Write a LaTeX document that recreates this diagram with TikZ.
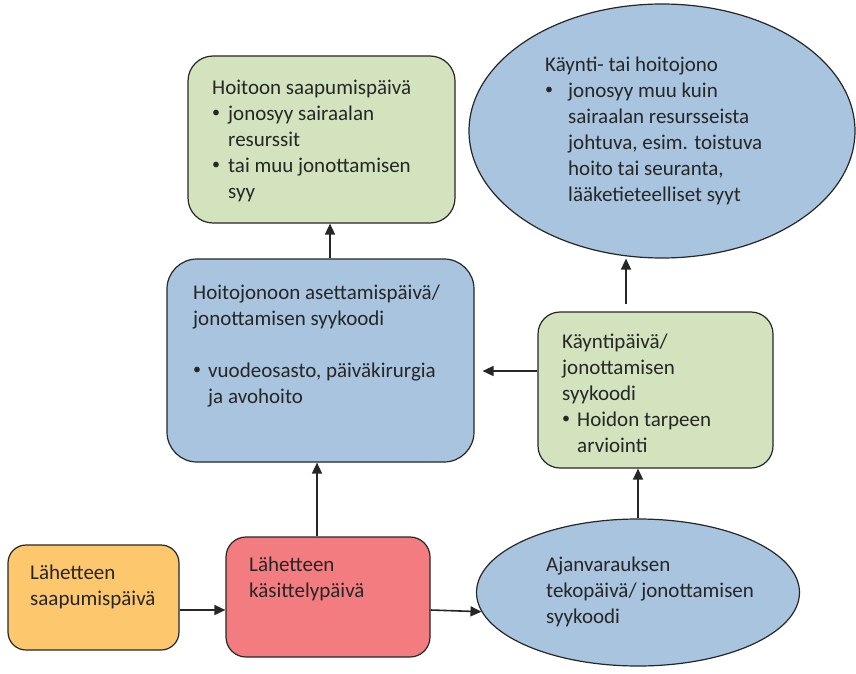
\documentclass[tikz,border=0pt]{standalone}
\usepackage{fontspec}
\setmainfont{Carlito}
\usepackage{tikz}
\usetikzlibrary{arrows.meta,shapes.geometric}

\definecolor{boxgreen}{RGB}{210,227,190}
\definecolor{boxblue}{RGB}{169,196,222}
\definecolor{boxorange}{RGB}{253,199,110}
\definecolor{boxred}{RGB}{242,124,128}
\definecolor{edge}{RGB}{38,38,38}

\newcommand{\itm}[1][16pt]{\makebox[#1][l]{\raisebox{3pt}{\fontsize{16}{16}\selectfont •}}}
\newcommand{\ind}[1][16pt]{\hspace*{#1}}

\begin{document}
\begin{tikzpicture}[x=1pt, y=-1pt,
  box/.style = {draw = edge, line width = 1.2pt, shape = rectangle, inner sep = 0pt},
  oval/.style = {draw = edge, line width = 1.2pt, shape = ellipse, inner sep = 0pt},
  txt/.style = {anchor = north west, inner sep = 0pt, align = left, text = edge,
                font = \fontsize{21}{26}\selectfont},
  arr/.style = {draw = edge, line width = 1.6pt, -{Triangle[length=11pt, width=10pt]}}]
\useasboundingbox (0,0) rectangle (856,674);

% shapes
\node[box, fill = boxgreen, rounded corners = 25pt, minimum width = 267pt, minimum height = 167pt] (hs) at (321.5,139.5) {};
\node[oval, fill = boxblue, minimum width = 386pt, minimum height = 254pt] (kj) at (662,131) {};
\node[box, fill = boxblue, rounded corners = 30pt, minimum width = 307pt, minimum height = 203pt] (hj) at (320.5,360.5) {};
\node[box, fill = boxgreen, rounded corners = 22pt, minimum width = 235pt, minimum height = 156pt] (kp) at (655.5,390) {};
\node[box, fill = boxorange, rounded corners = 18pt, minimum width = 171pt, minimum height = 105pt] (ls) at (93.5,597.5) {};
\node[box, fill = boxred, rounded corners = 20pt, minimum width = 204pt, minimum height = 120pt] (lk) at (328,597) {};
\node[oval, fill = boxblue, minimum width = 323pt, minimum height = 147pt] (av) at (638,592.5) {};

% texts
\node[txt] (hs-t) at (212,79.5) {Hoitoon saapumispäivä\\
  \itm jonosyy sairaalan\\ \ind resurssit\\
  \itm tai muu jonottamisen\\ \ind syy};
\node[txt] (kj-t) at (545,56.5) {Käynti- tai hoitojono\\
  \itm[23pt]jonosyy muu kuin\\ \ind[23pt]sairaalan resursseista\\
  \ind[23pt]johtuva, esim. toistuva\\ \ind[23pt]hoito tai seuranta,\\
  \ind[23pt]lääketieteelliset syyt};
\node[txt] (hj-t) at (193,284.5) {Hoitojonoon asettamispäivä/\\
  jonottamisen syykoodi\\[26pt]
  \itm[15pt]vuodeosasto, päiväkirurgia\\ \ind[15pt]ja avohoito};
\node[txt] (kp-t) at (562,333.5) {Käyntipäivä/\\ jonottamisen\\ syykoodi\\
  \itm[15pt]Hoidon tarpeen\\ \ind[15pt]arviointi};
\node[txt] (ls-t) at (30,564.5) {Lähetteen\\ saapumispäivä};
\node[txt] (lk-t) at (249,556.5) {Lähetteen\\ käsittelypäivä};
\node[txt] (av-t) at (546,556.5) {Ajanvarauksen\\ tekopäivä/ jonottamisen\\ syykoodi};

% connectors
\draw[arr] ([yshift=-12.5pt]ls.east) -- ([yshift=-12.5pt]ls.east -| lk.west);
\draw[arr] ([yshift=-13pt]lk.east) -- (av.187);
\draw[arr] ([xshift=-11pt]lk.north) -- ([xshift=-11pt]lk.north |- hj.south);
\draw[arr] (av.north) -- (av.north |- kp.south);
\draw[arr, shorten > = 8pt] ([yshift=19pt]kp.west) -- ([yshift=19pt]kp.west -| hj.east);
\draw[arr, shorten < = 7pt] ([xshift=-29.5pt]kp.north) -- ([xshift=-29.5pt]kp.north |- kj.south);
\draw[arr] ([xshift=9.5pt]hj.north) -- ([xshift=9.5pt]hj.north |- hs.south);
\end{tikzpicture}
\end{document}
